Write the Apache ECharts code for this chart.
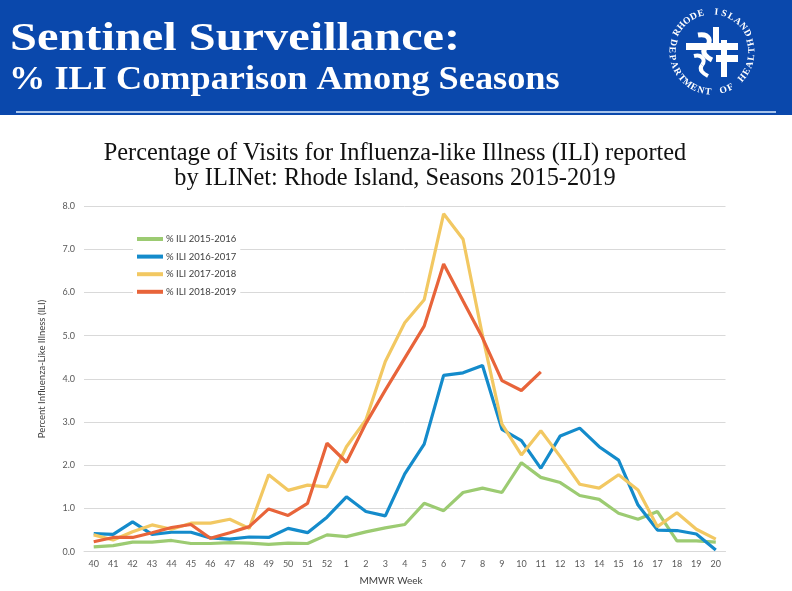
<!DOCTYPE html>
<html>
<head>
<meta charset="utf-8">
<script src="https://cdn.jsdelivr.net/npm/echarts@6/dist/echarts.min.js"></script>
<style>
html,body{margin:0;padding:0;background:#fff;}
#c{width:792px;height:591px;}
</style>
</head>
<body>
<div id="c"></div>
<script>
var weeks = ['40','41','42','43','44','45','46','47','48','49','50','51','52',
  '1','2','3','4','5','6','7','8','9','10','11','12','13','14','15','16','17','18','19','20'];
var yTicks = [0,1,2,3,4,5,6,7,8];
var seriesNames = ['% ILI 2015-2016','% ILI 2016-2017','% ILI 2017-2018','% ILI 2018-2019'];
var ili1516 = [0.11,0.14,0.22,0.22,0.26,0.19,0.19,0.21,0.20,0.17,0.20,0.19,0.39,
  0.35,0.46,0.55,0.63,1.12,0.95,1.37,1.47,1.37,2.06,1.72,1.60,1.30,1.21,0.89,0.75,0.93,0.25,0.25,0.22];
var ili1617 = [0.42,0.40,0.69,0.40,0.45,0.45,0.32,0.29,0.34,0.33,0.54,0.44,0.80,
  1.27,0.93,0.83,1.80,2.49,4.08,4.14,4.31,2.83,2.57,1.93,2.68,2.86,2.43,2.12,1.08,0.50,0.49,0.41,0.04];
var ili1718 = [0.39,0.27,0.46,0.62,0.52,0.66,0.66,0.75,0.54,1.78,1.42,1.54,1.50,
  2.43,3.05,4.40,5.30,5.83,7.82,7.23,5.00,2.95,2.24,2.80,2.20,1.56,1.47,1.78,1.43,0.58,0.90,0.52,0.29];
var ili1819 = [0.23,0.33,0.33,0.44,0.56,0.63,0.31,0.44,0.58,0.99,0.84,1.12,2.51,
  2.07,2.97,3.74,4.48,5.22,6.66,5.80,4.95,3.96,3.73,4.16,null,null,null,null,null,null,null,null,null];
var colors = ['#9ccb72','#148bcb','#f2c862','#e8643a'];
var titleLines = ['Percentage of Visits for Influenza-like Illness (ILI) reported',
  'by ILINet: Rhode Island, Seasons 2015-2019'];

var chart = echarts.init(document.getElementById('c'), null, {renderer:'canvas'});

// logo letters around a circle
var logo = [];
var cx = 712, cy = 52, r = 40;
function placeArc(text, a0, a1, outwardTop) {
  var n = text.length;
  for (var i = 0; i < n; i++) {
    var ch = text[i];
    if (ch === ' ') continue;
    var a = (a0 + (a1 - a0) * (n === 1 ? 0 : i / (n - 1))) * Math.PI / 180;
    var rot = outwardTop ? a - Math.PI / 2 : a + Math.PI / 2;
    logo.push({
      type: 'text', x: cx + r * Math.cos(a), y: cy - r * Math.sin(a), rotation: rot,
      style: {text: ch, fill: '#fff', font: 'bold 9.5px "Liberation Serif"', align: 'center', verticalAlign: 'middle'}
    });
  }
}
placeArc('RHODE ISLAND', 151, 28, true);
placeArc('DEPARTMENT OF HEALTH', 166, 374, false);

function curve(x1,y1,c1x,c1y,c2x,c2y,x2,y2,w){
  return {type:'bezierCurve', shape:{x1:x1,y1:y1,cpx1:c1x,cpy1:c1y,cpx2:c2x,cpy2:c2y,x2:x2,y2:y2},
    style:{stroke:'#fff', lineWidth:w, fill:null}};
}

var graphics = [
  {type:'rect', shape:{x:0,y:0,width:792,height:115}, style:{fill:'#0a48ac'}},
  {type:'rect', shape:{x:16,y:111,width:760,height:2}, style:{fill:'#a7c3ea'}},
  {type:'text', x:10, y:39, scaleX:1.18, style:{text:'Sentinel Surveillance:', fill:'#fff', font:'bold 41px "Liberation Serif"', verticalAlign:'middle'}},
  {type:'text', x:9, y:80.5, scaleX:1.1, style:{text:'% ILI Comparison Among Seasons', fill:'#fff', font:'bold 33px "Liberation Serif"', verticalAlign:'middle'}},
  // logo mark
  {type:'rect', shape:{x:713,y:27,width:6,height:17}, style:{fill:'#fff'}},
  {type:'rect', shape:{x:686,y:43,width:52,height:7}, style:{fill:'#fff'}},
  {type:'rect', shape:{x:716,y:55,width:22,height:7}, style:{fill:'#fff'}},
  {type:'rect', shape:{x:721,y:40,width:6,height:37}, style:{fill:'#fff'}},
  curve(698,35, 710,33, 712,42, 706,47, 5),
  curve(706,47, 700,53, 708,58, 712,60, 5),
  curve(694,56, 702,54, 706,60, 702,65, 4),
  curve(702,65, 698,70, 704,74, 708,76, 4),
  // chart title
  {type:'text', x:395, y:153, scaleX:0.975, style:{text:titleLines[0], fill:'#111', font:'25px "Liberation Serif"', align:'center', verticalAlign:'middle'}},
  {type:'text', x:395, y:178, scaleX:0.975, style:{text:titleLines[1], fill:'#111', font:'25px "Liberation Serif"', align:'center', verticalAlign:'middle'}},
  {type:'text', x:42, y:369, rotation:Math.PI/2, style:{text:'Percent Influenza-Like Illness (ILI)', fill:'#404040', font:'9.5px Lato', align:'center', verticalAlign:'middle'}},
  {type:'text', x:391, y:581, style:{text:'MMWR Week', fill:'#404040', font:'10px Lato', align:'center', verticalAlign:'middle'}}
].concat(logo);

var series = [ili1516, ili1617, ili1718, ili1819].map(function(d, i){
  return {
    name: seriesNames[i], type:'line', data:d, symbol:'none', smooth:false,
    lineStyle:{width:3.2, color:colors[i]}, itemStyle:{color:colors[i]},
    connectNulls:false, z: 2 + i
  };
});

chart.setOption({
  animation:false,
  backgroundColor:'#fff',
  legend:{
    orient:'vertical', left:133, top:231, itemWidth:26, itemHeight:4, itemGap:7.6,
    icon:'rect', backgroundColor:'#fff', padding:[3,4,3,4],
    textStyle:{fontFamily:'Lato', fontSize:9.5, color:'#404040', padding:[0,0,0,-2]},
    data:seriesNames
  },
  grid:{left:84, right:66.5, top:206, bottom:39.3, containLabel:false},
  xAxis:{
    type:'category', data:weeks, boundaryGap:true,
    axisLine:{lineStyle:{color:'#d9d9d9', width:1}},
    axisTick:{show:false},
    axisLabel:{interval:0, color:'#595959', fontFamily:'Lato', fontSize:9, margin:8}
  },
  yAxis:{
    type:'value', min:yTicks[0], max:yTicks[yTicks.length-1], interval:1,
    axisLine:{show:false}, axisTick:{show:false},
    splitLine:{lineStyle:{color:'#d9d9d9', width:1}},
    axisLabel:{color:'#595959', fontFamily:'Lato', fontSize:9, margin:9,
      formatter:function(v){return v.toFixed(1);}}
  },
  graphic:graphics,
  series:series
});
</script>
</body>
</html>
